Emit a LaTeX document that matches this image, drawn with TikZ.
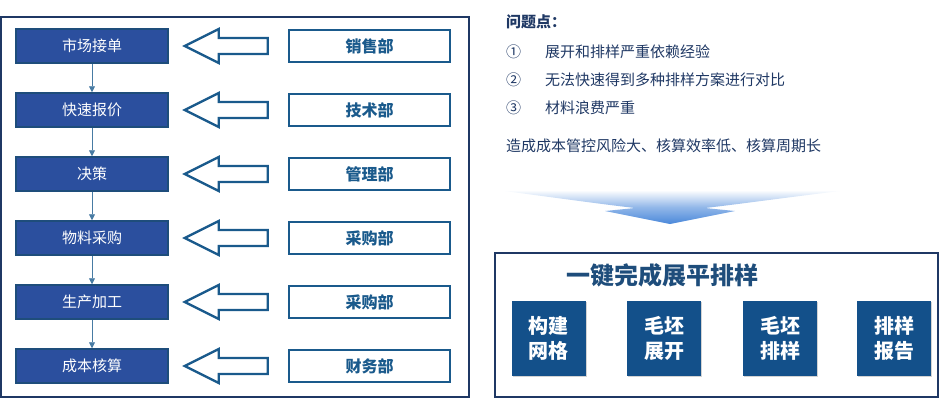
\documentclass[tikz,border=0pt]{standalone}
\usepackage{fontspec}
\newfontfamily\cjk{Noto Sans CJK SC}
\usetikzlibrary{arrows.meta,positioning,shadows}
\definecolor{stepblue}{HTML}{2B4F9E}
\definecolor{stepedge}{HTML}{1E4D7B}
\definecolor{deptblue}{HTML}{1A5A8C}
\definecolor{navy}{HTML}{1F3864}
\definecolor{squareblue}{HTML}{13508A}
\definecolor{fadeblue}{HTML}{4A88DA}
\tikzset{
  stepbox/.style={draw=stepedge, line width=1.5pt, fill=stepblue, text=white,
    minimum width=152pt, minimum height=34pt, inner sep=0pt,
    font=\cjk\fontsize{15pt}{18pt}\selectfont},
  deptbox/.style={draw=deptblue, line width=2.2pt, fill=white, text=deptblue,
    minimum width=161pt, minimum height=32pt, inner sep=0pt,
    font=\cjk\bfseries\fontsize{16pt}{19pt}\selectfont},
  hollow/.style={draw=deptblue, line width=2.4pt, line join=miter},
  flow/.style={draw=deptblue!80, line width=0.8pt, -{Triangle[width=6pt,length=6pt]}},
  note/.style={anchor=west, inner sep=0pt, text=navy,
    font=\cjk\fontsize{15pt}{18pt}\selectfont},
  resultbox/.style={fill=squareblue, text=white, align=center,
    minimum width=74pt, minimum height=75pt, inner sep=0pt,
    drop shadow={shadow xshift=1pt, shadow yshift=-1pt, opacity=0.35},
    font=\cjk\bfseries\fontsize{20pt}{25pt}\selectfont}
}
\begin{document}
\begin{tikzpicture}[x=1pt, y=-1pt]
  \useasboundingbox (0,0) rectangle (940,400);

  % left frame
  \draw[navy, line width=2pt] (1,17) rectangle (469,397);

  % process steps and departments
  \node[stepbox] (s1) at (92,46) {市场接单};
  \node[stepbox, below=28.5pt of s1] (s2) {快速报价};
  \node[stepbox, below=28.5pt of s2] (s3) {决策};
  \node[stepbox, below=28.5pt of s3] (s4) {物料采购};
  \node[stepbox, below=28.5pt of s4] (s5) {生产加工};
  \node[stepbox, below=28.5pt of s5] (s6) {成本核算};

  \foreach \i/\dept in {1/销售部, 2/技术部, 3/管理部, 4/采购部, 5/采购部, 6/财务部} {
    \node[deptbox] (d\i) at (369.5,0 |- s\i) {\dept};
    \draw[hollow] ([xshift=16pt]s\i.east) -- ++(34,-17) -- ++(0,9) -- ++(49,0)
      -- ++(0,16) -- ++(-49,0) -- ++(0,9) -- cycle;
  }

  \foreach \i/\j in {1/2, 2/3, 3/4, 4/5, 5/6}
    \draw[flow] (s\i) -- (s\j);

  % problems
  \node[note, font=\cjk\bfseries\fontsize{15pt}{18pt}\selectfont] (q0) at (506,22) {问题点：};
  \node[note] (n1) at (506,52) {①};
  \node[note] (q1) at (545,52) {展开和排样严重依赖经验};
  \node[note] (n2) at (506,80) {②};
  \node[note] (q2) at (545,80) {无法快速得到多种排样方案进行对比};
  \node[note] (n3) at (506,108) {③};
  \node[note] (q3) at (545,108) {材料浪费严重};
  \node[note] (q4) at (506,146) {造成成本管控风险大、核算效率低、核算周期长};

  % big arrow
  \shade[top color=white, bottom color=fadeblue, middle color=fadeblue!60]
    (497,190) -- (848,190) .. controls (790,197) and (740,204) .. (705,208)
    -- (735,211) -- (670,224) -- (605,211) -- (635,208)
    .. controls (600,204) and (550,197) .. (497,190) -- cycle;

  % solution
  \draw[navy, line width=2pt] (495,253) rectangle (938,397);
  \node[inner sep=0pt, text=stepedge, font=\cjk\bfseries\fontsize{24pt}{28pt}\selectfont]
    (title) at (662,275) {一键完成展平排样};
  \node[resultbox] (r1) at (548.5,338.5) {构建\\网格};
  \node[resultbox] (r2) at (664,338.5) {毛坯\\展开};
  \node[resultbox] (r3) at (780,338.5) {毛坯\\排样};
  \node[resultbox] (r4) at (894,338.5) {排样\\报告};
\end{tikzpicture}
\end{document}
